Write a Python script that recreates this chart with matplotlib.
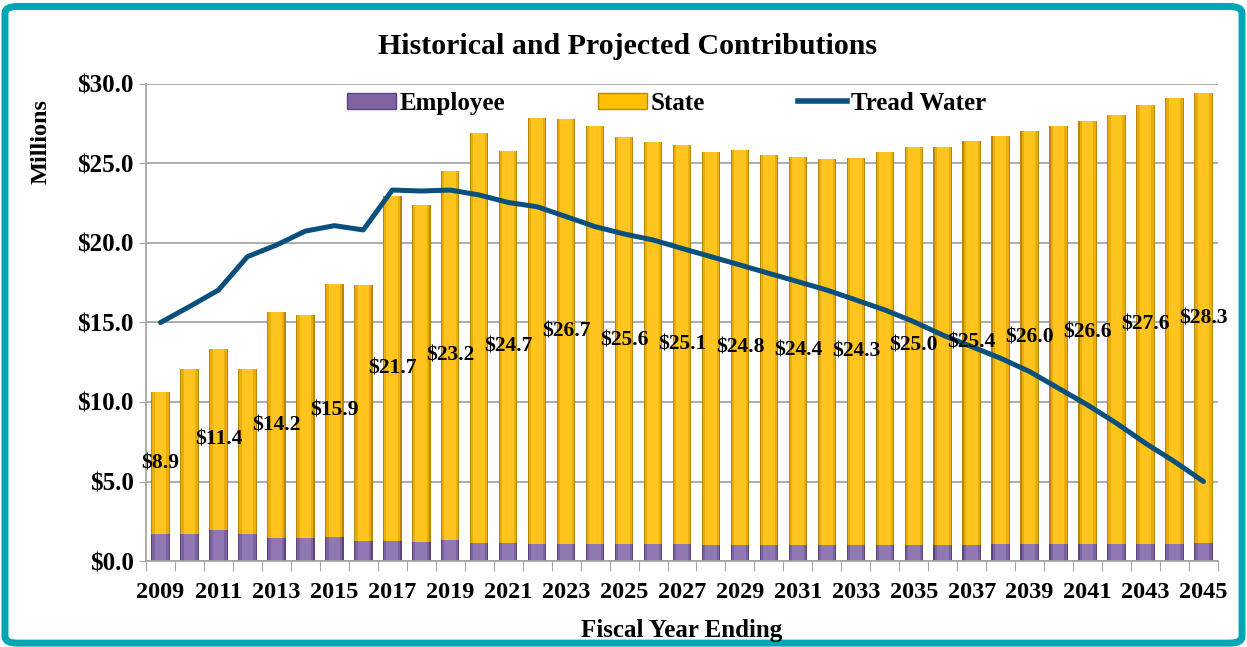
import matplotlib
matplotlib.use("Agg")
import matplotlib.pyplot as plt
from matplotlib.patches import Rectangle, FancyBboxPatch
from matplotlib.lines import Line2D
import numpy as np

years = list(range(2009, 2046))
employee = [1.70, 1.68, 1.95, 1.70, 1.43, 1.47, 1.49, 1.28, 1.26, 1.19, 1.32, 1.15, 1.11,
            1.10, 1.10, 1.08, 1.05, 1.04, 1.04, 1.02, 1.02, 1.02, 1.02, 1.02, 1.02,
            1.03, 1.03, 1.03, 1.03, 1.04, 1.05, 1.06, 1.07, 1.08, 1.10, 1.10, 1.11]
state = [8.9, 10.37, 11.4, 10.40, 14.2, 14.0, 15.9, 16.06, 21.7, 21.22, 23.2, 25.79, 24.7,
         26.74, 26.7, 26.30, 25.6, 25.31, 25.1, 24.72, 24.8, 24.51, 24.4, 24.28, 24.3,
         24.69, 25.0, 24.99, 25.4, 25.69, 26.0, 26.30, 26.6, 26.95, 27.6, 28.00, 28.3]
tread_water = [15.0, 16.0, 17.04, 19.14, 19.87, 20.75, 21.09, 20.82, 23.33, 23.27, 23.33, 23.02, 22.55,
               22.28, 21.66, 21.03, 20.57, 20.19, 19.66, 19.14, 18.62, 18.09, 17.57, 17.04, 16.42,
               15.79, 15.05, 14.21, 13.48, 12.75, 11.91, 10.86, 9.81, 8.66, 7.40, 6.25, 5.00]
yticks = [0, 5, 10, 15, 20, 25, 30]

FONT = "Liberation Serif"
plt.rcParams['font.family'] = [FONT, 'DejaVu Serif']
plt.rcParams['font.weight'] = 'bold'

fig = plt.figure(figsize=(12.47, 6.47), dpi=100)
fig.patch.set_facecolor('white')
frame = FancyBboxPatch((0.004, 0.006), 0.992, 0.984, boxstyle="round,pad=0,rounding_size=0.01",
                       transform=fig.transFigure, facecolor='white', edgecolor='#00A6B6',
                       linewidth=5, zorder=-10)
fig.patches.append(frame)

ax = fig.add_axes([146/1247, 86/647, 1072/1247, 477/647])
ax.set_facecolor('none')
x = np.arange(len(years))
emp = np.array(employee)
st = np.array(state)

# bevel-like banded bars
for w, ce, cs in [(0.64, '#5A4580', '#B8860B'), (0.56, '#7C62A0', '#EAAE0A'), (0.40, '#9078B4', '#FFC41E')]:
    ax.bar(x, emp, width=w, color=ce, linewidth=0, zorder=2)
    ax.bar(x, st, bottom=emp, width=w, color=cs, linewidth=0, zorder=2)

ax.plot(x, tread_water, color='#0B4F7C', linewidth=3.6, zorder=4, solid_capstyle='round',
        solid_joinstyle='round')

for i in range(0, len(years), 2):
    ax.text(x[i], emp[i] + st[i] / 2, f"${st[i]:.1f}", ha='center', va='center',
            fontsize=15.5, fontweight='bold', zorder=5, color='black')

ax.set_xlim(-0.5, len(years) - 0.5)
ax.set_ylim(0, 30)
ax.set_yticks(yticks)
ax.set_yticklabels([f"${v:.1f}" for v in yticks], fontsize=18, fontweight='bold')
ax.yaxis.grid(True, color='#A6A6A6', linewidth=1.3, zorder=0)
ax.set_axisbelow(True)
ax.tick_params(axis='y', length=5, color='#A6A6A6', pad=4)

ax.set_xticks(np.arange(-0.5, len(years), 1.0))
ax.set_xticklabels([])
ax.set_xticks(x[::2], minor=True)
ax.set_xticklabels([str(years[i]) for i in range(0, len(years), 2)], minor=True,
                   fontsize=17.5, fontweight='bold')
ax.tick_params(axis='x', which='major', length=7, color='#A6A6A6')
ax.tick_params(axis='x', which='minor', length=0, pad=15)

for s in ['top', 'right']:
    ax.spines[s].set_visible(False)
ax.spines['left'].set_color('#A6A6A6')
ax.spines['bottom'].set_color('#A6A6A6')
ax.spines['left'].set_linewidth(1.3)
ax.spines['bottom'].set_linewidth(1.3)

ax.set_ylabel("Millions", fontsize=17.5, fontweight='bold')
ax.yaxis.set_label_coords(-0.088, 0.88)
ax.set_xlabel("Fiscal Year Ending", fontsize=18, fontweight='bold', labelpad=12)

fig.text(0.503, 1 - 46/647, "Historical and Projected Contributions", ha='center', va='center',
         fontsize=21.5, fontweight='bold')

handles = [Rectangle((0, 0), 1, 1, facecolor='#8064A2', edgecolor='#5A4580'),
           Rectangle((0, 0), 1, 1, facecolor='#FFC000', edgecolor='#B8860B'),
           Line2D([0], [0], color='#0B4F7C', linewidth=4)]
leg = ax.legend(handles, ['Employee', 'State', 'Tread Water'], ncol=3, loc='center left',
                bbox_to_anchor=(0.1875, 0.96), frameon=False, fontsize=18, handlelength=1.96,
                handleheight=0.6, handletextpad=0.16, columnspacing=3.7, borderpad=0, borderaxespad=0)

fig.savefig("out.png", dpi=100)
